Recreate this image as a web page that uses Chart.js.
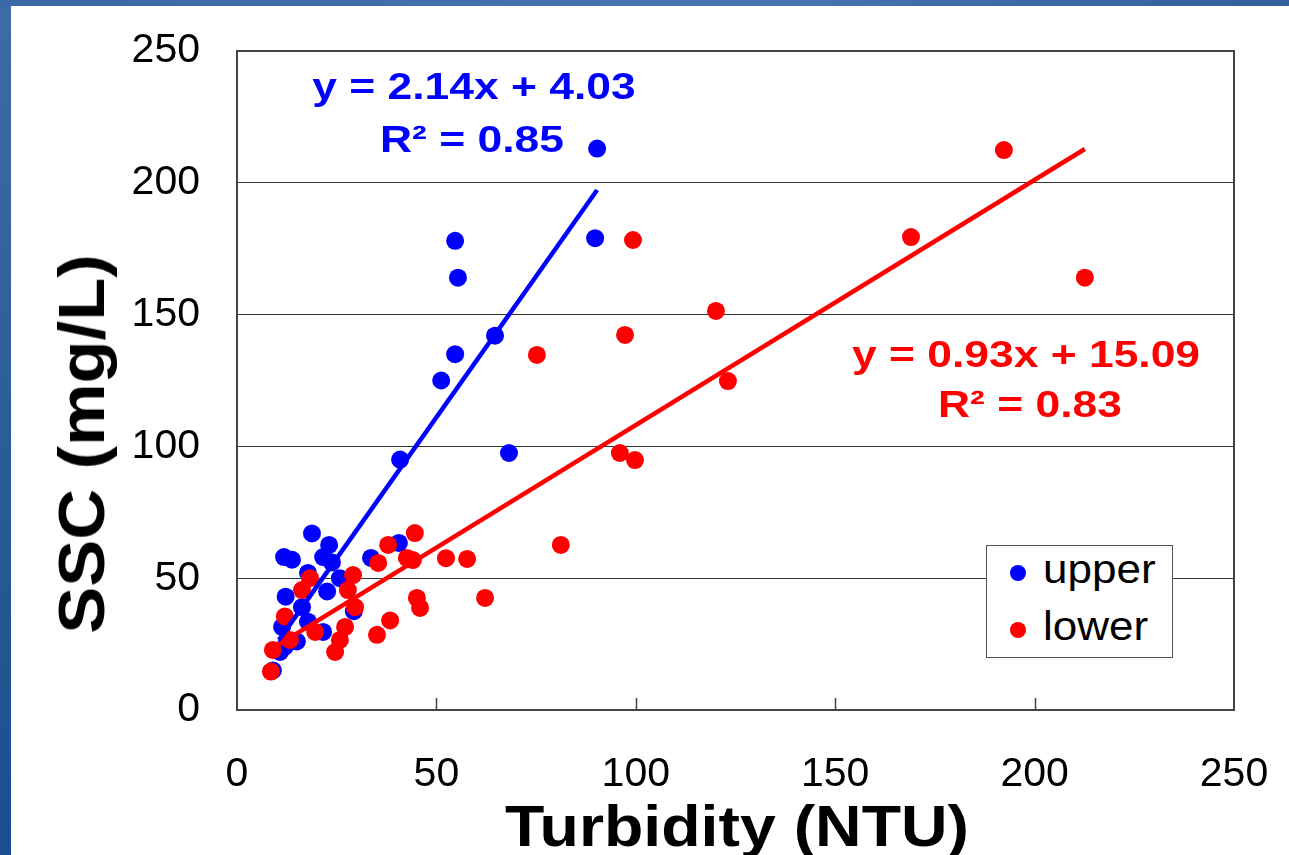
<!DOCTYPE html>
<html>
<head>
<meta charset="utf-8">
<script src="https://cdn.jsdelivr.net/npm/chart.js@4"></script>
<style>
    html, body { margin: 0; padding: 0; background: #fff; }
    body { width: 1289px; height: 855px; position: relative; overflow: hidden; font-family: "Liberation Sans", Arial, sans-serif; }
    #edgeLeft { position: absolute; left: 0; top: 0; width: 11px; height: 855px; background: linear-gradient(#3d6ca8, #1a4e8e); }
    #edgeTop { position: absolute; left: 0; top: 0; width: 1289px; height: 6px; background: linear-gradient(90deg, #3a69a6, #4676b0 60%, #2f5f9f); }
    #chart { position: absolute; left: 0; top: 0; }
    .eq { position: absolute; width: 600px; text-align: center; white-space: nowrap; font-weight: bold; font-size: 37px; line-height: 37px; transform: scaleX(1.2); }
    .blue { color: #0000ff; }
    .red { color: #ff0000; }
    #yTitle { position: absolute; left: 82px; top: 444px; white-space: nowrap; font-weight: bold; font-size: 64px; line-height: 64px;
              transform: translate(-50%, -50%) rotate(-90deg) scaleX(1.1); }
    #xTitle { position: absolute; left: 437px; top: 798px; width: 600px; text-align: center; white-space: nowrap; font-weight: bold;
              font-size: 57px; line-height: 57px; transform: scaleX(1.13); }
    #legendBox { position: absolute; left: 986px; top: 545px; width: 185px; height: 111px; border: 1.5px solid #555; background: #fff; }
    .legDot { position: absolute; width: 16px; height: 16px; border-radius: 50%; }
    .legText { position: absolute; font-size: 40px; line-height: 40px; white-space: nowrap; transform: scaleX(1.1); transform-origin: left center; }
</style>
</head>
<body>
<div id="edgeLeft"></div>
<div id="edgeTop"></div>
<canvas id="chart" width="1289" height="855"></canvas>

<div class="eq blue" style="left:174px; top:68px;">y = 2.14x + 4.03</div>
<div class="eq blue" style="left:172px; top:121px;">R² = 0.85</div>
<div class="eq red" style="left:726px; top:336px;">y = 0.93x + 15.09</div>
<div class="eq red" style="left:730px; top:386px;">R² = 0.83</div>

<div id="yTitle">SSC (mg/L)</div>
<div id="xTitle">Turbidity (NTU)</div>

<div id="legendBox">
    <div class="legDot" style="left:23px; top:19px; background:#0000ff;"></div>
    <div class="legText" style="left:56px; top:3px;">upper</div>
    <div class="legDot" style="left:23px; top:76px; background:#ff0000;"></div>
    <div class="legText" style="left:56px; top:60px;">lower</div>
</div>

<script>
// turbidity (NTU) and SSC (mg/L)
const upperTurbidity = [90.3, 89.8, 54.7, 55.4, 54.7, 51.2, 64.7, 40.9, 68.2, 18.8, 11.8, 13.8, 23.1, 21.6, 23.8,
    17.8, 12.2, 22.6, 25.8, 33.6, 40.6, 29.3, 16.3, 17.8, 21.6, 11.3, 15, 12, 10.8, 9];
const upperSSC = [213, 179, 178, 164, 135, 125, 142, 95, 97.5, 67, 58, 57, 62.6, 58, 56,
    52, 43, 45, 50, 57.7, 63.4, 37.5, 39, 33.5, 29.6, 31.5, 26, 24, 22, 15];

const lowerTurbidity = [192.3, 212.6, 169, 120.1, 123.1, 99.3, 97.3, 75.2, 96, 99.8, 81.2, 62.2, 57.7, 52.4, 44.6,
    44.1, 45.1, 45.9, 37.9, 35.4, 42.6, 29.1, 27.8, 29.6, 38.4, 35.1, 27.1, 25.8, 24.6, 19.6, 18.3, 16.3, 12, 9, 8.5, 13.3];
const lowerSSC = [212.4, 164, 179.4, 151.4, 124.8, 178.3, 142.3, 134.7, 97.5, 94.8, 62.6, 42.5, 57.3, 57.6, 67.1,
    56.9, 42.5, 38.7, 62.6, 55.8, 57.7, 51.2, 45.5, 39, 34, 28.5, 31.5, 26.6, 22, 29.6, 50, 45.5, 35.5, 22.8, 14.6, 26.6];

// fitted lines as printed on the chart: [slope, intercept], and x span of each line
const upperFit = [2.14, 4.03];
const lowerFit = [0.93, 15.09];
const upperFitRange = [10.5, 90.3];
const lowerFitRange = [8, 212.6];

const axisTicks = [0, 50, 100, 150, 200, 250];

const toPoints = (xs, ys) => xs.map((x, i) => ({ x: x, y: ys[i] }));
const fitPoints = (fit, range) => range.map(x => ({ x: x, y: fit[0] * x + fit[1] }));

const FONT = '"Liberation Sans", Arial, sans-serif';

// plot frame on top/right plus the small inward ticks on the x axis
const framePlugin = {
    id: 'frame',
    beforeDatasetsDraw(chart) {
        const { ctx, chartArea: a, scales } = chart;
        ctx.save();
        ctx.strokeStyle = '#444';
        ctx.lineWidth = 2;
        ctx.strokeRect(a.left, a.top, a.right - a.left, a.bottom - a.top);
        ctx.lineWidth = 1.5;
        axisTicks.slice(1, -1).forEach(v => {
            const px = Math.round(scales.x.getPixelForValue(v)) + 0.5;
            ctx.beginPath();
            ctx.moveTo(px, a.bottom);
            ctx.lineTo(px, a.bottom - 12);
            ctx.stroke();
        });
        ctx.restore();
    }
};

const ctx = document.getElementById('chart').getContext('2d');
new Chart(ctx, {
    type: 'scatter',
    data: {
        datasets: [
            {
                label: 'lower fit',
                data: fitPoints(lowerFit, lowerFitRange),
                showLine: true,
                borderColor: '#ff0000',
                borderWidth: 4.5,
                pointRadius: 0
            },
            {
                label: 'upper fit',
                data: fitPoints(upperFit, upperFitRange),
                showLine: true,
                borderColor: '#0000ff',
                borderWidth: 4.5,
                pointRadius: 0
            },
            {
                label: 'lower',
                data: toPoints(lowerTurbidity, lowerSSC),
                backgroundColor: '#ff0000',
                borderColor: '#ff0000',
                borderWidth: 0,
                pointRadius: 9
            },
            {
                label: 'upper',
                data: toPoints(upperTurbidity, upperSSC),
                backgroundColor: '#0000ff',
                borderColor: '#0000ff',
                borderWidth: 0,
                pointRadius: 9
            }
        ]
    },
    options: {
        responsive: false,
        animation: false,
        layout: { padding: { top: 51, right: 55, left: 0, bottom: 0 } },
        plugins: {
            legend: { display: false },
            tooltip: { enabled: false }
        },
        scales: {
            x: {
                type: 'linear',
                min: 0,
                max: 250,
                afterBuildTicks: s => { s.ticks = axisTicks.map(v => ({ value: v })); },
                afterFit: s => { s.height = 145; s.paddingLeft = 0; s.paddingRight = 0; },
                ticks: { color: '#000', padding: 40, font: { family: FONT, size: 41 } },
                grid: { display: false, drawTicks: false },
                border: { display: true, color: '#444', width: 2 }
            },
            y: {
                type: 'linear',
                min: 0,
                max: 250,
                afterBuildTicks: s => { s.ticks = axisTicks.map(v => ({ value: v })); },
                afterFit: s => { s.width = 237; s.paddingTop = 0; s.paddingBottom = 0; },
                ticks: { color: '#000', padding: 37, font: { family: FONT, size: 41 } },
                grid: { color: '#333', lineWidth: 1, drawTicks: false },
                border: { display: true, color: '#444', width: 2 }
            }
        }
    },
    plugins: [framePlugin]
});
</script>
</body>
</html>
